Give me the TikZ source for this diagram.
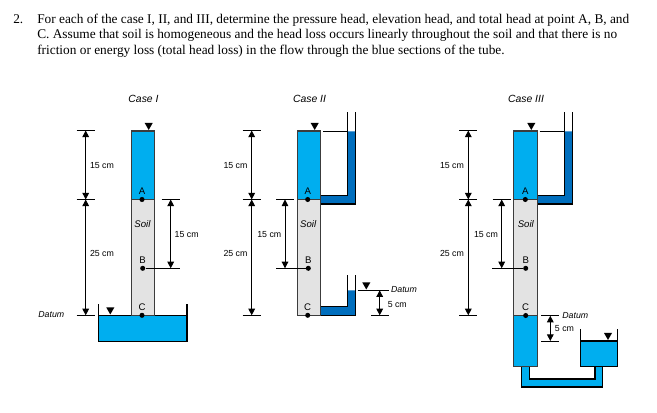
\documentclass[tikz,border=0pt]{standalone}
\usepackage{fontspec}
\setmainfont{Liberation Serif}
\setsansfont{Liberation Sans}
\usepackage{tikz}
\usetikzlibrary{calc, positioning, arrows.meta}

\definecolor{waterblue}{HTML}{00AEEF}
\definecolor{sideblue}{HTML}{006EBD}
\definecolor{soilgray}{HTML}{E3E3E3}
\definecolor{wallgray}{HTML}{3C3C3C}

\tikzset{
    wall/.style={draw=wallgray, line width=0.85pt},
    pipe/.style={draw=black, line width=0.8pt},
    dimline/.style={black, line width=0.7pt, {Triangle[length=5pt,width=5pt]}-{Triangle[length=5pt,width=5pt]}},
    tickline/.style={black, line width=0.7pt},
    dimlabel/.style={font=\sffamily\fontsize{6.6}{8}\selectfont, inner sep=0pt},
    pointlabel/.style={font=\sffamily\fontsize{7.2}{8}\selectfont, inner sep=0pt},
    datumlabel/.style={font=\sffamily\itshape\fontsize{6.6}{8}\selectfont, inner sep=0pt},
    titlelabel/.style={font=\sffamily\itshape\fontsize{7.8}{9}\selectfont, inner sep=0pt},
    soillabel/.style={font=\sffamily\itshape\fontsize{7.2}{8}\selectfont, inner sep=0pt},
    pointdot/.style={circle, fill=black, inner sep=0pt, minimum size=3.8pt},
    bodyline/.style={font=\fontsize{10}{12}\selectfont, inner sep=0pt, anchor=base west}
}

\begin{document}
\begin{tikzpicture}[x=0.75pt, y=-0.75pt]
    \useasboundingbox (0,0) rectangle (657,413);
    \fill[white] (0,0) rectangle (657,413);

    % Question text
    \node[bodyline] (qnum) at (13,23.5) {2.};
    \node[bodyline] (qone) at (37,23.5) {For each of the case I, II, and III, determine the pressure head, elevation head, and total head at point A, B, and};
    \node[bodyline] (qtwo) at (37,39) {C. Assume that soil is homogeneous and the head loss occurs linearly throughout the soil and that there is no};
    \node[bodyline] (qthree) at (37,54.5) {friction or energy loss (total head loss) in the flow through the blue sections of the tube.};

    % Titles
    \foreach \x/\name/\txt in {143.5/ttlone/Case I, 309.5/ttltwo/Case II, 526/ttlthree/Case III} {
            \node[titlelabel] (\name) at (\x,98.5) {\txt};
        }

    % Side tubes, dark blue
    \foreach \xa/\xb/\xc in {320.3/347.7/355.3, 537.3/564.7/572.7} {
            \fill[sideblue] (\xa,195.7) -- (\xb,195.7) -- (\xb,131.3) -- (\xc,131.3) -- (\xc,204) -- (\xa,204) -- cycle;
            \draw[pipe] (\xa,195.7) -- (\xb,195.7) -- (\xb,112.3);
            \draw[pipe] (\xa,204) -- (\xc,204) -- (\xc,112.3);
        }
    \fill[sideblue] (320.3,306.7) -- (347.7,306.7) -- (347.7,290.3) -- (355.3,290.3) -- (355.3,315.3) -- (320.3,315.3) -- cycle;
    \draw[pipe] (320.3,306.7) -- (347.7,306.7) -- (347.7,275);
    \draw[pipe] (320.3,315.3) -- (355.3,315.3) -- (355.3,275);

    % U tube and tank of case III
    \draw[pipe, fill=waterblue] (521.7,366.7) -- (521.7,387) -- (602.7,387) -- (602.7,366.7) -- (595,366.7) -- (595,379) -- (529.7,379) -- (529.7,366.7) -- cycle;
    \fill[waterblue] (580.3,341) rectangle (617.3,366.7);
    \draw[pipe] (580.3,329) -- (580.3,366.7) -- (617.3,366.7) -- (617.3,329);
    \draw[pipe] (580.3,341) -- (617.3,341);

    % Tank of case I
    \fill[waterblue] (98.3,315.3) rectangle (187,341.3);
    \draw[pipe] (98.3,304.3) -- (98.3,341.3) -- (187,341.3) -- (187,304.3);
    \draw[pipe] (98.3,315.3) -- (187,315.3);

    % Tubes: water on top, then soil
    \foreach \xa/\xb in {131.7/154.7, 297.7/320.3, 513.7/537.3} {
            \fill[waterblue] (\xa,131) rectangle (\xb,199.7);
            \fill[soilgray] (\xa,199.7) rectangle (\xb,315.5);
            \draw[wall] (\xa,131) rectangle (\xb,199.7);
            \draw[wall] (\xa,199.7) rectangle (\xb,315.5);
        }
    \fill[waterblue] (513.7,315.5) rectangle (537.3,366.7);
    \draw[wall] (513.7,315.5) rectangle (537.3,366.7);

    % Soil labels and points
    \foreach \x/\y/\name in {142/199.5/one, 307.7/199.5/two, 525.3/199.5/three} {
            \node[pointdot] (ptA\name) at (\x,\y) {};
            \node[pointlabel, above=1.2pt of ptA\name] (lblA\name) {A};
            \node[soillabel] (soil\name) at (\x+0.5,224) {Soil};
        }
    \foreach \x/\y/\name in {142.7/268.3/one, 308.3/268.3/two, 525.7/268.3/three} {
            \node[pointdot] (ptB\name) at (\x,\y) {};
            \node[pointlabel, above=1.2pt of ptB\name] (lblB\name) {B};
        }
    \foreach \x/\y/\name in {142/315.3/one, 307.7/315.3/two, 525.7/315.5/three} {
            \node[pointdot] (ptC\name) at (\x,\y) {};
            \node[pointlabel, above=1.2pt of ptC\name] (lblC\name) {C};
        }

    % Outer dimension lines, 15 cm and 25 cm
    \foreach \x/\lx in {85.7/102, 251.7/235.5, 468.3/452} {
            \draw[tickline] (\x-9,130.5) -- (\x+9,130.5);
            \draw[tickline] (\x-9,199.5) -- (\x+9,199.5);
            \draw[tickline] (\x-9,315.3) -- (\x+9,315.3);
            \draw[dimline] (\x,130.5) -- (\x,199.5);
            \draw[dimline] (\x,199.5) -- (\x,315.3);
            \node[dimlabel] at (\lx,165.3) {15 cm};
            \node[dimlabel] at (\lx,253.3) {25 cm};
        }

    % Inner dimension lines, 15 cm
    \foreach \x/\lx/\name in {170.7/186.7/one, 285/269.3/two, 501.7/486/three} {
            \coordinate (dimtop\name) at (\x,199.5);
            \coordinate (dimbot\name) at (\x,268.3);
            \draw[tickline] (\x-9,199.5) -- (\x+9,199.5);
            \draw[dimline] (dimtop\name) -- (dimbot\name);
            \node[dimlabel] at (\lx,234.5) {15 cm};
        }
    \coordinate (btickone) at (180,268.3);
    \coordinate (bticktwo) at (276,268.3);
    \coordinate (btickthree) at (492.3,268.3);
    \draw[tickline] (ptBone) -- (btickone);
    \draw[tickline] (ptBtwo) -- (bticktwo);
    \draw[tickline] (ptBthree) -- (btickthree);

    % Water levels
    \foreach \x/\y in {148.7/130, 110.3/314.5, 314.7/130, 366.3/289.5, 531.3/130, 608/340} {
            \fill[black] (\x-4,\y-7) -- (\x+4,\y-7) -- (\x,\y) -- cycle;
        }
    \draw[tickline] (323,131.3) -- (346.5,131.3);
    \draw[tickline] (539.7,131.3) -- (563.5,131.3);

    % Datum of each case
    \node[datumlabel] (datumone) at (51.3,315) {Datum};
    \node[datumlabel] (datumtwo) at (404,290) {Datum};
    \node[datumlabel] (datumthree) at (575.3,315.5) {Datum};

    \draw[tickline] (357.7,290.3) -- (389,290.3);
    \draw[tickline] (371.3,315.3) -- (389,315.3);
    \draw[dimline] (379.7,290.3) -- (379.7,315.3);
    \node[dimlabel] at (397.3,304.3) {5 cm};

    \draw[tickline] (541,315.7) -- (559.3,315.7);
    \draw[tickline] (541,341) -- (559.3,341);
    \draw[dimline] (550.3,315.7) -- (550.3,341);
    \node[dimlabel] at (564.5,329) {5 cm};
\end{tikzpicture}
\end{document}
